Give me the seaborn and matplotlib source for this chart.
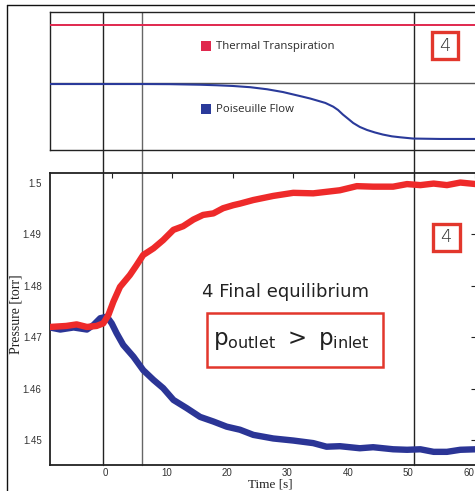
import numpy as np
import pandas as pd
import matplotlib
matplotlib.use("Agg")
import matplotlib.pyplot as plt
import seaborn as sns
from matplotlib.patches import Rectangle
from matplotlib.lines import Line2D
from matplotlib.transforms import ScaledTranslation

# ---------------- data ----------------
outlet_t = [-10.2, -7.5, -5.8, -4.1, -2.5, -1.4, -0.56, 0.27, 1.37, 3.0, 4.1, 5.2, 6.9, 8.5,
            10.2, 11.8, 13.5, 15.1, 16.8, 18.4, 20.1, 21.2, 23.4, 26.7, 30.0, 33.3, 37.7,
            40.5, 43.2, 46.5, 48.8, 51.0, 53.2, 55.4, 57.6, 60.2]
outlet_p = [1.4720, 1.4722, 1.4725, 1.4720, 1.4722, 1.4727, 1.4743, 1.4769, 1.4798, 1.4821,
            1.4840, 1.4860, 1.4873, 1.4889, 1.4909, 1.4916, 1.4929, 1.4938, 1.4941, 1.4951,
            1.4957, 1.4960, 1.4967, 1.4975, 1.4981, 1.4980, 1.4986, 1.4994, 1.4993, 1.4993,
            1.4998, 1.4996, 1.4999, 1.4996, 1.5001, 1.4998]
inlet_t = [-10.2, -8.5, -6.3, -4.1, -3.0, -1.9, -0.8, 0.0, 0.8, 1.9, 3.6, 5.2, 6.9, 8.5, 10.2,
           12.4, 14.6, 16.8, 19.0, 21.2, 23.4, 26.7, 30.0, 33.3, 35.5, 37.7, 41.0, 43.2, 46.5,
           48.8, 51.0, 53.2, 55.4, 57.6, 60.2]
inlet_p = [1.4719, 1.4715, 1.4719, 1.4715, 1.4724, 1.4737, 1.4740, 1.4727, 1.4708, 1.4685,
           1.4662, 1.4636, 1.4617, 1.4601, 1.4578, 1.4562, 1.4545, 1.4536, 1.4526, 1.4520,
           1.4510, 1.4503, 1.4499, 1.4494, 1.4487, 1.4488, 1.4484, 1.4486, 1.4482, 1.4481,
           1.4482, 1.4477, 1.4477, 1.4481, 1.4482]
# schematic top panel (normalised units)
pois_t = [-10.2, 5.0, 9.6, 14.6, 17.4, 20.0, 22.9, 25.7, 28.3, 31.1, 32.8, 33.9, 35.3, 36.6,
          37.4, 38.2, 39.1, 39.9, 41.0, 42.2, 43.5, 44.8, 46.3, 47.7, 49.8, 54.3, 60.2]
pois_v = [0.478, 0.478, 0.477, 0.473, 0.469, 0.464, 0.455, 0.440, 0.420, 0.391, 0.373, 0.359,
          0.341, 0.314, 0.290, 0.257, 0.225, 0.196, 0.167, 0.145, 0.127, 0.112, 0.099, 0.092,
          0.083, 0.080, 0.080]
thermal_level = 0.906
divider_level = 0.486
event_times = [-1.36, 5.0, 50.0]
x_ticks = [0, 10, 20, 30, 40, 50, 60]
y_ticks = [1.45, 1.46, 1.47, 1.48, 1.49, 1.50]
y_tick_labels = ["1.45", "1.46", "1.47", "1.48", "1.49", "1.5"]

RED = "#ee2a2a"
BLUE = "#2b3596"
BOXRED = "#e2372c"

sns.set_style("white")
plt.rcParams["font.family"] = ["Open Sans", "DejaVu Sans"]

W, H = 475, 491
fig = plt.figure(figsize=(W / 100, H / 100), dpi=100)

def fr(x0, y0, x1, y1):
    """pixel box (top-left origin) -> figure fraction [l, b, w, h]"""
    return [x0 / W, 1 - y1 / H, (x1 - x0) / W, (y1 - y0) / H]

xmin, xmax = -10.2, 60.2
ax = fig.add_axes(fr(50, 173.3, 476, 465))
ax_top = fig.add_axes(fr(50, 12, 476, 150))

df_out = pd.DataFrame({"t": outlet_t, "p": outlet_p})
df_in = pd.DataFrame({"t": inlet_t, "p": inlet_p})
sns.lineplot(data=df_in, x="t", y="p", ax=ax, color=BLUE, lw=4.6, zorder=3)
sns.lineplot(data=df_out, x="t", y="p", ax=ax, color=RED, lw=4.6, zorder=4)
ax.set_xlim(xmin, xmax)
ax.set_ylim(1.44514, 1.5019)
ax.set_xticks(x_ticks)
ax.set_xticklabels([str(v) for v in x_ticks])
ax.set_yticks(y_ticks)
ax.set_yticklabels(y_tick_labels)
ax.tick_params(direction="in", length=3.5, width=0.8, top=True, right=True,
               labelsize=7, labelcolor="#333333", colors="#222222")
ax.tick_params(axis="y", pad=6)
ax.tick_params(axis="x", pad=2.5)
for lab in ax.get_xticklabels() + ax.get_yticklabels():
    lab.set_family(["Liberation Sans"])
off = ScaledTranslation(-6 / 100, 0, fig.dpi_scale_trans)
for lab in ax.get_xticklabels():
    lab.set_transform(lab.get_transform() + off)
for s in ax.spines.values():
    s.set_color("#222222")
    s.set_linewidth(1.3)
ax.set_xlabel("Time [s]", family=["Liberation Serif"], fontsize=9.5, color="#222222")
ax.xaxis.set_label_coords((270 - 50) / 426, -(478.5 - 465) / 291.7)
ax.set_ylabel("Pressure [torr]", family=["Liberation Serif"], fontsize=10, color="#222222")
ax.yaxis.set_label_coords(-(50 - 22.5) / 426, (465 - 314) / 291.7)

for i, t in enumerate(event_times):
    c = "#666666" if i == 1 else "#222222"
    ax.axvline(t, ymin=0, ymax=1 + 23.3 / 291.7, color=c, lw=1.0, clip_on=False, zorder=2)
    ax_top.axvline(t, color=c, lw=1.0, zorder=2)

# top schematic panel
df_pois = pd.DataFrame({"t": pois_t, "v": pois_v})
sns.lineplot(data=df_pois, x="t", y="v", ax=ax_top, color="#2a3a9a", lw=1.5, zorder=3)
ax_top.axhline(thermal_level, color="#e0284e", lw=1.4, zorder=3)
ax_top.axhline(divider_level, color="#555555", lw=1.0, zorder=1)
ax_top.set_xlim(xmin, xmax)
ax_top.set_ylim(0, 1)
ax_top.set_xticks([])
ax_top.set_yticks([])
ax_top.set_xlabel("")
ax_top.set_ylabel("")
for s in ax_top.spines.values():
    s.set_color("#222222")
    s.set_linewidth(1.0)

def fx(px):
    return px / W

def fy(py):
    return 1 - py / H

# legend-like labels in top panel
fig.patches.append(Rectangle((fx(201), fy(51)), 10 / W, 9.5 / H, transform=fig.transFigure,
                             facecolor="#e0284e", edgecolor="none", figure=fig))
fig.text(fx(216), fy(46.5), "Thermal Transpiration", fontsize=8.2, color="#2a2a2a",
         va="center", ha="left")
fig.patches.append(Rectangle((fx(201), fy(113.5)), 10 / W, 9.5 / H, transform=fig.transFigure,
                             facecolor="#2a3a9a", edgecolor="none", figure=fig))
fig.text(fx(216), fy(109), "Poiseuille Flow", fontsize=8.2, color="#2a2a2a",
         va="center", ha="left")

# numbered boxes
for (x0, y0, x1, y1) in [(431.5, 32.5, 457.5, 59), (433, 223.5, 459.5, 250.5)]:
    fig.patches.append(Rectangle((fx(x0), fy(y1)), (x1 - x0) / W, (y1 - y0) / H,
                                 transform=fig.transFigure, facecolor="white",
                                 edgecolor=BOXRED, lw=2.4, figure=fig, zorder=5))
    fig.text(fx((x0 + x1) / 2), fy((y0 + y1) / 2 + 0.5), "4", fontsize=13,
             color="#333333", ha="center", va="center", zorder=6,
             family=["DejaVu Sans"], fontweight="light")

# annotation
fig.text(fx(286), fy(292), "4 Final equilibrium", fontsize=13, color="#222222",
         ha="center", va="center", family=["DejaVu Sans"])
fig.patches.append(Rectangle((fx(206.5), fy(366.5)), (383 - 206.5) / W, (366.5 - 313) / H,
                             transform=fig.transFigure, facecolor="white",
                             edgecolor=BOXRED, lw=1.8, figure=fig, zorder=5))
plt.rcParams["mathtext.fontset"] = "custom"
plt.rcParams["mathtext.rm"] = "DejaVu Sans"
plt.rcParams["mathtext.it"] = "DejaVu Sans"
fig.text(fx(291), fy(341), r"$\mathregular{p_{outlet}\ >\ p_{inlet}}$", fontsize=16.5,
         color="#222222", ha="center", va="center", zorder=6, family=["DejaVu Sans"])

# outer frame
fig.add_artist(Line2D([fx(7), fx(7)], [fy(5), 0], transform=fig.transFigure,
                      color="#111111", lw=1.0))
fig.add_artist(Line2D([fx(7), 1.0], [fy(5), fy(5)], transform=fig.transFigure,
                      color="#111111", lw=1.0))

fig.savefig("out.png", dpi=100)
